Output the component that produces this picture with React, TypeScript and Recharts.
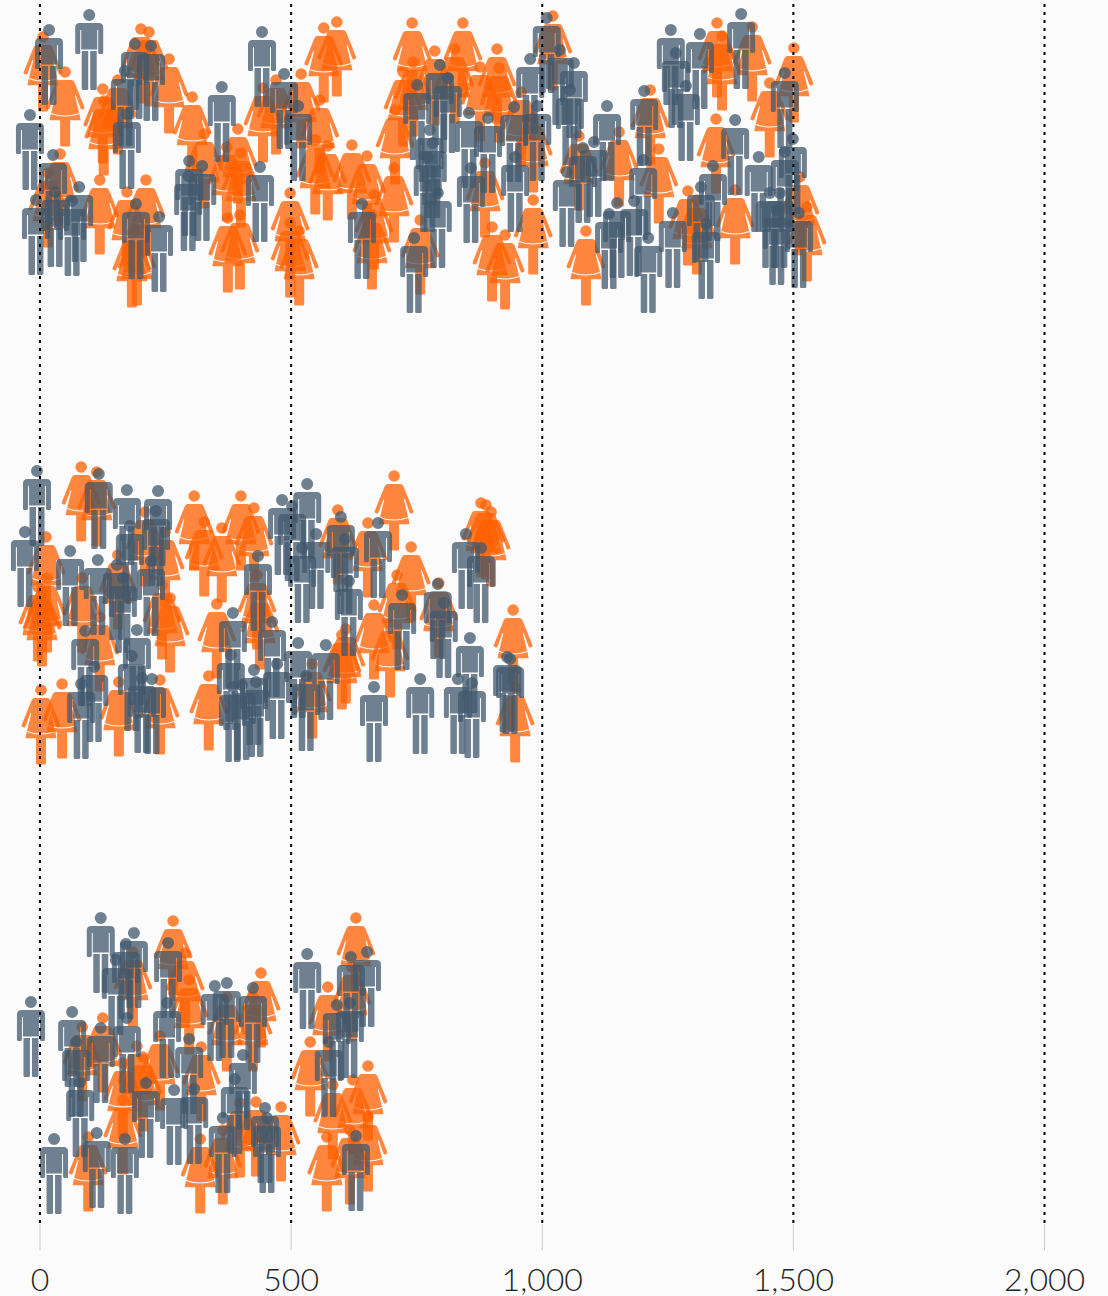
import { ScatterChart, Scatter, XAxis, YAxis } from "recharts";

const ticks = [0, 500, 1000, 1500, 2000];

// x = amount, y = vertical jitter position inside the row
const topMenX = [18, 98, -20, 189, 221, 169, 173, 26, 30, -8, 78, 64, 191, 237, 442, 362, 486, 514, 297, 323, 295, 438, 641, 751, 745, 796, 812, 854, 892, 946, 858, 792, 776, 782, 772, 944, 990, 976, 1009, 1035, 1063, 1055, 1129, 1256, 1314, 1266, 1286, 1396, 1203, 1384, 1483, 1499, 1483, 1431, 1340, 1316, 1201, 1081, 1103, 1049, 1149, 1183, 1133, 1211, 1260, 1326, 1453, 1473, 1467, 1511];
const topMenY = [64, 49, 149, 78, 80, 105, 148, 189, 226, 234, 221, 235, 238, 251, 66, 121, 108, 140, 195, 200, 210, 201, 238, 119, 272, 99, 112, 147, 152, 191, 202, 227, 164, 177, 191, 141, 140, 93, 52, 84, 97, 124, 140, 64, 68, 87, 120, 48, 125, 154, 107, 173, 186, 191, 200, 221, 194, 182, 176, 206, 237, 235, 248, 272, 247, 258, 227, 227, 244, 247];
const topWomenX = [6, 50, 201, 217, 155, 125, 127, 257, 303, 327, 394, 372, 400, 40, 16, 119, 211, 173, 183, 193, 374, 398, 444, 470, 520, 557, 565, 591, 498, 498, 516, 548, 573, 621, 651, 665, 705, 741, 743, 723, 707, 661, 757, 842, 786, 826, 910, 914, 876, 958, 982, 1021, 1073, 1153, 1215, 1232, 1348, 1358, 1418, 1501, 1346, 1453, 886, 982, 900, 926, 1087, 1290, 1308, 1384, 1513, 1527];
const topWomenY = [71, 106, 63, 66, 114, 123, 135, 93, 131, 168, 163, 181, 187, 188, 207, 214, 214, 226, 267, 265, 252, 249, 122, 114, 108, 134, 62, 56, 227, 257, 265, 174, 180, 179, 190, 229, 202, 57, 96, 106, 144, 249, 254, 57, 85, 83, 83, 102, 101, 126, 152, 50, 170, 166, 124, 183, 57, 70, 61, 82, 153, 117, 197, 234, 261, 269, 265, 225, 234, 224, 211, 241];

const midMenX = [-6, -30, 117, 173, 235, 231, 179, 60, 115, 153, 165, 221, 193, 183, 90, 108, 82, 203, 223, 384, 380, 426, 430, 384, 402, 472, 462, 434, 482, 502, 532, 550, 522, 599, 607, 673, 615, 721, 792, 804, 848, 878, 856, 930, 936, 514, 569, 530, 665, 757, 832, 860];
const midMenY = [505, 566, 508, 524, 525, 545, 560, 585, 594, 599, 612, 595, 664, 690, 665, 701, 718, 712, 713, 647, 689, 704, 716, 721, 719, 698, 656, 590, 534, 540, 518, 568, 582, 551, 573, 557, 615, 629, 618, 637, 568, 582, 672, 691, 693, 677, 679, 710, 721, 713, 713, 717];
const midWomenX = [82, 113, 12, 14, -4, 4, 209, 84, 119, 155, 249, 243, 259, 307, 327, 362, 400, 426, 432, 438, 352, 2, 44, 157, 239, 336, 705, 593, 653, 739, 878, 888, 898, 711, 794, 665, 942, 609, 601, 542, 946, 697];
const midWomenY = [501, 506, 571, 612, 621, 626, 546, 612, 651, 589, 566, 619, 632, 530, 556, 562, 530, 542, 609, 629, 638, 724, 718, 716, 714, 710, 510, 544, 557, 581, 537, 539, 546, 609, 617, 639, 644, 663, 669, 698, 722, 657];

const lowMenX = [121, 187, 171, 151, 255, -18, 64, 121, 72, 80, 173, 253, 297, 211, 267, 307, 348, 372, 424, 404, 388, 364, 448, 452, 28, 113, 169, 532, 651, 619, 591, 617, 575, 629];
const lowMenY = [952, 967, 978, 994, 977, 1036, 1046, 1062, 1076, 1116, 1052, 1037, 1073, 1117, 1124, 1123, 1020, 1017, 1022, 1089, 1113, 1152, 1142, 1152, 1173, 1167, 1173, 988, 986, 991, 1039, 1037, 1076, 1170];
const lowWomenX = [265, 185, 289, 297, 440, 125, 84, 193, 239, 321, 165, 165, 205, 319, 96, 430, 480, 398, 364, 573, 629, 538, 653, 623, 583, 653, 571, 617, 621, 372, 424];
const lowWomenY = [955, 986, 987, 1014, 1007, 1052, 1061, 1080, 1070, 1081, 1134, 1097, 1091, 1173, 1171, 1136, 1141, 1137, 1164, 1021, 952, 1076, 1100, 1114, 1119, 1151, 1171, 1164, 1001, 1031, 1031];

const yTop = 4;
const yBottom = 1224;

const toPoints = (xs: number[], ys: number[]) => xs.map((x, i) => ({ x, y: ys[i] }));

const womenData = [...toPoints(topWomenX, topWomenY), ...toPoints(midWomenX, midWomenY), ...toPoints(lowWomenX, lowWomenY)];
const menData = [...toPoints(topMenX, topMenY), ...toPoints(midMenX, midMenY), ...toPoints(lowMenX, lowMenY)];

const MAN =
  "M-6,0a6,6 0 1,0 12,0a6,6 0 1,0 -12,0Z" +
  "M-14,12.5Q-14,8 -9.5,8H9.5Q14,8 14,12.5V37.5Q14,39 12.5,39H10.5Q9,39 9,37.5V15H8V34.5H-8V15H-9V37.5Q-9,39 -10.5,39H-12.5Q-14,39 -14,37.5Z" +
  "M-7.5,36H-1V73.5Q-1,75 -2.5,75H-6Q-7.5,75 -7.5,73.5Z" +
  "M1,36H7.5V73.5Q7.5,75 6,75H2.5Q1,75 1,73.5Z";

const WOMAN =
  "M-5.8,0a5.8,5.8 0 1,0 11.6,0a5.8,5.8 0 1,0 -11.6,0Z" +
  "M-6.5,8H6.5Q8.7,8 9.5,10.5L19.3,35Q19.7,36.5 18.4,37L17.2,37.4Q16,37.7 15.5,36.5L10.6,23L9.8,23.4L14,41Q0,46 -14,41L-9.8,23.4L-10.6,23L-15.5,36.5Q-16,37.7 -17.2,37.4L-18.4,37Q-19.7,36.5 -19.3,35L-9.5,10.5Q-8.7,8 -6.5,8Z" +
  "M-14.4,42Q0,47 14.4,42L15.5,48.3H-15.5Z" +
  "M-5,48H5V73Q5,74.5 3.5,74.5H-3.5Q-5,74.5 -5,73Z";

const Man = (props: any) => (
  <path d={MAN} transform={`translate(${props.cx},${props.cy - 34})`} fill="#40586e" fillOpacity={0.75} />
);

const Woman = (props: any) => (
  <path d={WOMAN} transform={`translate(${props.cx},${props.cy - 34})`} fill="#ff5f00" fillOpacity={0.75} />
);

export default function App() {
  return (
    <div style={{ position: "absolute", left: 0, top: 0, width: 1108, height: 1296, background: "#fbfbfb" }}>
      <ScatterChart width={1108} height={1296} margin={{ top: yTop, right: 63.5, bottom: 0, left: 4.84 }}>
        <XAxis
          type="number"
          dataKey="x"
          domain={[-70, 2000]}
          ticks={ticks}
          height={72}
          axisLine={false}
          tickSize={26}
          tickLine={{ stroke: "#ccc" }}
          tickMargin={18}
          tickFormatter={(v: number) => v.toLocaleString("en-US")}
          tick={{ fontFamily: "'Lato Light', Lato", fontWeight: 300, fontSize: 32, fill: "#222" }}
          interval={0}
        />
        <YAxis type="number" dataKey="y" domain={[yTop, yBottom]} reversed hide />
        <Scatter data={womenData} shape={Woman} isAnimationActive={false} />
        <Scatter data={menData} shape={Man} isAnimationActive={false} />
        {/* dotted lines sit on top of the figures, the grid component would go under them */}
        {ticks.map((t) => (
          <Scatter
            key={t}
            data={[{ x: t, y: yTop }, { x: t, y: yBottom }]}
            line={{ stroke: "#000", strokeWidth: 2, strokeDasharray: "3 5" }}
            shape={() => <g />}
            isAnimationActive={false}
          />
        ))}
      </ScatterChart>
    </div>
  );
}
